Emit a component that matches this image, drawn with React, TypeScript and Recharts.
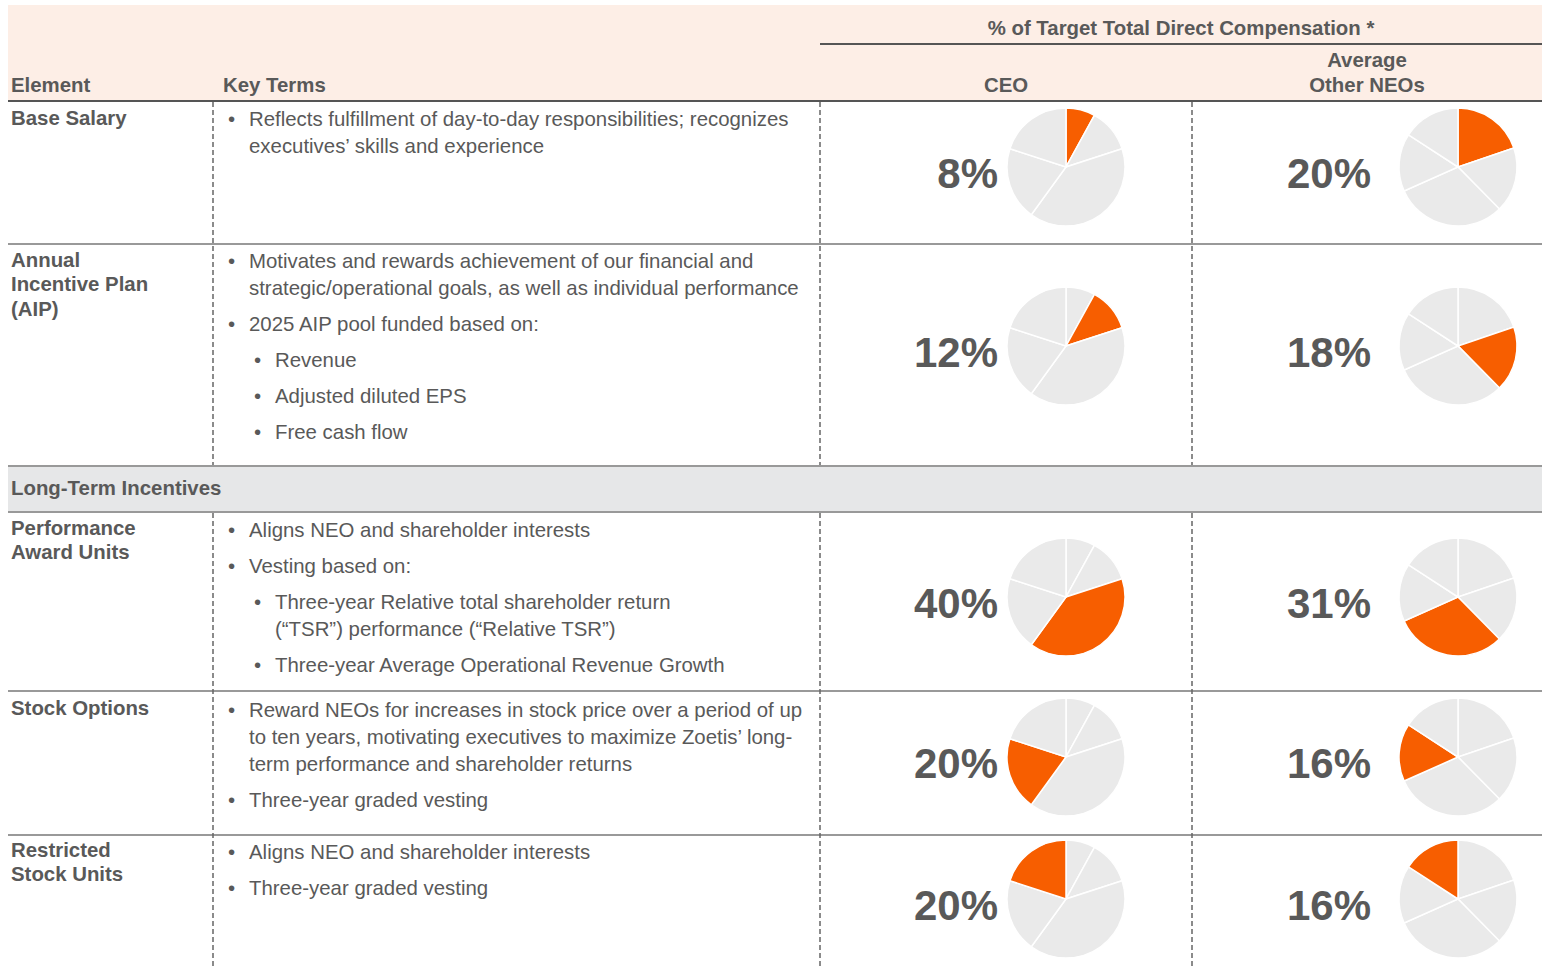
import { PieChart, Pie, Cell } from "recharts";

// share of target total direct compensation, one slice per element
const ELEMENTS = ["Base Salary", "Annual Incentive Plan", "Performance Award Units", "Stock Options", "Restricted Stock Units"];
const CEO_PCT = [8, 12, 40, 20, 20];
const NEO_PCT = [20, 18, 31, 16, 16];

const ELEMENT_LABELS = [
  ["Base Salary"],
  ["Annual", "Incentive Plan", "(AIP)"],
  ["Performance", "Award Units"],
  ["Stock Options"],
  ["Restricted", "Stock Units"],
];

type Term = { sub?: boolean; lines: string[] };

const KEY_TERMS: Term[][] = [
  [{ lines: ["Reflects fulfillment of day-to-day responsibilities; recognizes", "executives’ skills and experience"] }],
  [
    { lines: ["Motivates and rewards achievement of our financial and", "strategic/operational goals, as well as individual performance"] },
    { lines: ["2025 AIP pool funded based on:"] },
    { sub: true, lines: ["Revenue"] },
    { sub: true, lines: ["Adjusted diluted EPS"] },
    { sub: true, lines: ["Free cash flow"] },
  ],
  [
    { lines: ["Aligns NEO and shareholder interests"] },
    { lines: ["Vesting based on:"] },
    { sub: true, lines: ["Three-year Relative total shareholder return", "(“TSR”) performance (“Relative TSR”)"] },
    { sub: true, lines: ["Three-year Average Operational Revenue Growth"] },
  ],
  [
    {
      lines: [
        "Reward NEOs for increases in stock price over a period of up",
        "to ten years, motivating executives to maximize Zoetis’ long-",
        "term performance and shareholder returns",
      ],
    },
    { lines: ["Three-year graded vesting"] },
  ],
  [{ lines: ["Aligns NEO and shareholder interests"] }, { lines: ["Three-year graded vesting"] }],
];

const LABEL_Y = [118, 260, 528, 708, 850];
const TERM_Y = [119, 261, 530, 710, 852];
const PIE_Y = [167, 346, 597, 757, 899];
const ROW_LINES = [244, 466, 512, 691, 835];

const ORANGE = "#f75e00";
const GREY = "#eaeaea";
const TEXT = "#595959";
const FONT = "'Liberation Sans', Arial, sans-serif";
const FS = 20.4;

function MiniPie(props: { values: number[]; highlight: number; cx: number; cy: number }) {
  const data = ELEMENTS.map((name, i) => ({ name, value: props.values[i] }));
  const size = 130;
  return (
    <div style={{ position: "absolute", left: props.cx - size / 2, top: props.cy - size / 2 }}>
      <PieChart width={size} height={size} margin={{ top: 0, right: 0, bottom: 0, left: 0 }}>
        <Pie
          data={data}
          dataKey="value"
          nameKey="name"
          cx={size / 2}
          cy={size / 2}
          outerRadius={59}
          startAngle={90}
          endAngle={-270}
          stroke="#ffffff"
          strokeWidth={1.5}
          isAnimationActive={false}
        >
          {data.map((d, i) => (
            <Cell key={d.name} fill={i === props.highlight ? ORANGE : GREY} />
          ))}
        </Pie>
      </PieChart>
    </div>
  );
}

function Txt(props: { x: number; y: number; children: any; bold?: boolean; size?: number; align?: "left" | "center" | "right"; w?: number; color?: string }) {
  const size = props.size ?? FS;
  const w = props.w ?? 0;
  const left = props.align === "center" ? props.x - w / 2 : props.align === "right" ? props.x - w : props.x;
  return (
    <div
      style={{
        position: "absolute",
        left,
        top: props.y - size * 0.6,
        width: w || undefined,
        textAlign: props.align ?? "left",
        fontSize: size,
        lineHeight: `${size * 1.2}px`,
        fontWeight: props.bold ? 700 : 400,
        color: props.color ?? TEXT,
        whiteSpace: "nowrap",
      }}
    >
      {props.children}
    </div>
  );
}

export default function App() {
  const texts: any[] = [];
  KEY_TERMS.forEach((terms, r) => {
    let y = TERM_Y[r];
    terms.forEach((t, ti) => {
      const bx = t.sub ? 254 : 228;
      const tx = t.sub ? 275 : 249;
      texts.push(
        <Txt key={`b${r}-${ti}`} x={bx} y={y}>
          •
        </Txt>
      );
      t.lines.forEach((ln, li) => {
        texts.push(
          <Txt key={`t${r}-${ti}-${li}`} x={tx} y={y + li * 27}>
            {ln}
          </Txt>
        );
      });
      y += (t.lines.length - 1) * 27 + 36;
    });
  });

  return (
    <div style={{ position: "absolute", left: 0, top: 0, width: 1544, height: 969, background: "#fff", fontFamily: FONT, overflow: "hidden" }}>
      <svg width={1544} height={969} style={{ position: "absolute", left: 0, top: 0 }}>
        <rect x={8} y={5} width={1534} height={96} fill="#fdeee6" />
        <rect x={8} y={467} width={1534} height={45} fill="#e6e7e8" />
        <line x1={820} x2={1542} y1={44} y2={44} stroke="#555" strokeWidth={2} />
        <line x1={8} x2={1542} y1={101} y2={101} stroke="#555" strokeWidth={2} />
        {ROW_LINES.map((y) => (
          <line key={y} x1={8} x2={1542} y1={y} y2={y} stroke="#999" strokeWidth={2} />
        ))}
        {[213, 820, 1192].map((x) => (
          <g key={x}>
            <line x1={x} x2={x} y1={102} y2={465} stroke="#666" strokeWidth={1.5} strokeDasharray="5 3" />
            <line x1={x} x2={x} y1={513} y2={969} stroke="#666" strokeWidth={1.5} strokeDasharray="5 3" />
          </g>
        ))}
      </svg>

      <Txt x={1181} y={28} bold align="center" w={500}>
        % of Target Total Direct Compensation *
      </Txt>
      <Txt x={11} y={85} bold>
        Element
      </Txt>
      <Txt x={223} y={85} bold>
        Key Terms
      </Txt>
      <Txt x={1006} y={85} bold align="center" w={200}>
        CEO
      </Txt>
      <Txt x={1367} y={60} bold align="center" w={200}>
        Average
      </Txt>
      <Txt x={1367} y={85} bold align="center" w={200}>
        Other NEOs
      </Txt>
      <Txt x={11} y={488} bold>
        Long-Term Incentives
      </Txt>

      {ELEMENT_LABELS.map((lines, r) =>
        lines.map((ln, li) => (
          <Txt key={`l${r}-${li}`} x={11} y={LABEL_Y[r] + li * 24.5} bold>
            {ln}
          </Txt>
        ))
      )}

      {texts}

      {ELEMENTS.map((name, r) => (
        <div key={name}>
          <Txt x={998} y={PIE_Y[r] + 7} bold size={42} align="right" w={150}>
            {CEO_PCT[r]}%
          </Txt>
          <Txt x={1371} y={PIE_Y[r] + 7} bold size={42} align="right" w={150}>
            {NEO_PCT[r]}%
          </Txt>
          <MiniPie values={CEO_PCT} highlight={r} cx={1066} cy={PIE_Y[r]} />
          <MiniPie values={NEO_PCT} highlight={r} cx={1458} cy={PIE_Y[r]} />
        </div>
      ))}
    </div>
  );
}
